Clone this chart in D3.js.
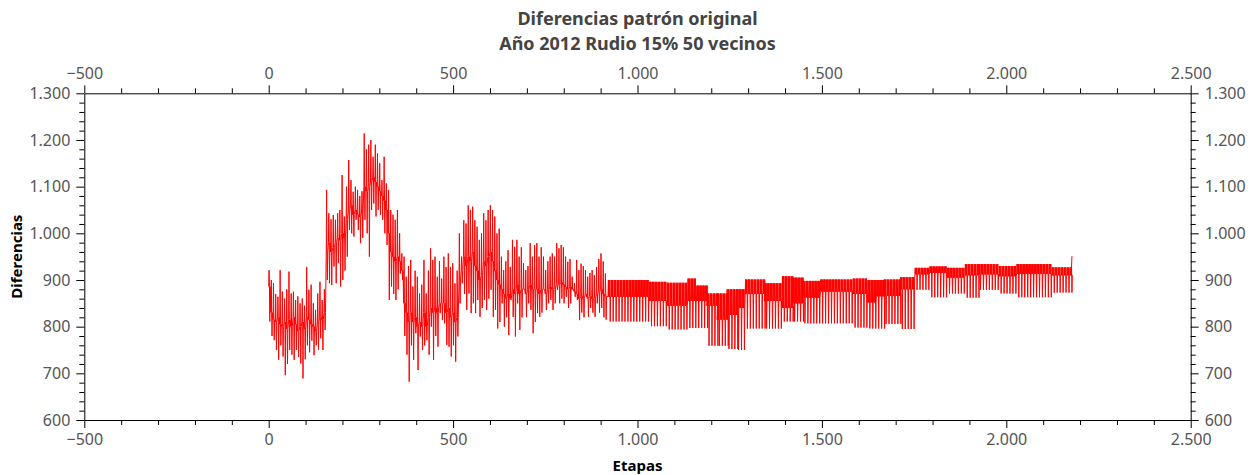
<!DOCTYPE html>
<html>
<head>
<meta charset="utf-8">
<script src="https://cdn.jsdelivr.net/npm/d3@7"></script>
<style>
  html, body { margin: 0; padding: 0; background: #fff; }
  svg text { font-family: "Noto Sans", "Open Sans", sans-serif; }
</style>
</head>
<body>
<svg id="chart" width="1254" height="475"></svg>
<script>
// ---------- chart texts ----------
const titleLines = ["Diferencias patrón original", "Año 2012 Rudio 15% 50 vecinos"];
const xTitle = "Etapas";
const yTitle = "Diferencias";

// ---------- ticks ----------
const xTicks = [-500, 0, 500, 1000, 1500, 2000, 2500];
const xTickLabels = ["\u2212500", "0", "500", "1.000", "1.500", "2.000", "2.500"];
const yTicks = [600, 700, 800, 900, 1000, 1100, 1200, 1300];
const yTickLabels = ["600", "700", "800", "900", "1.000", "1.100", "1.200", "1.300"];

// ---------- data: early irregular part, one reading every 6 stages ----------
const earlyPeriod = 6;
const earlyHi = [921,900,893,870,864,921,875,860,880,918,871,875,857,865,850,860,845,928,879,890,
  850,836,871,896,857,880,1093,1043,1030,1039,1029,1043,1050,1125,1036,1100,1157,1114,1089,1100,
  1093,1080,1090,1214,1180,1190,1200,1164,1190,1171,1150,1114,1164,1107,1093,1050,1040,1029,1050,1000,
  957,950,907,930,943,886,920,907,871,890,943,871,920,968,943,950,907,940,903,950,
  928,957,928,936,893,920,1000,950,1028,1021,1060,1050,1057,1028,1014,986,1000,1043,1028,1050,
  1060,1050,1036,1000,1010,950,921,940,964,928,986,971,986,950,970,936,921,930,979,950,
  975,979,950,970,950,921,940,950,957,950,979,968,975,970,950,939,945,907,893,943,
  921,935,930,921,907,915,921,910,928,945,957,940,914];
const earlyMid = [886,830,815,810,820,805,800,810,795,815,800,820,805,790,800,810,795,820,815,805,
  800,790,810,820,815,830,960,980,960,970,980,990,985,1000,990,1030,1050,1060,1040,1050,
  1040,1035,1050,1100,1090,1100,1110,1120,1110,1100,1090,1080,1070,1050,1000,960,950,940,950,940,
  920,850,830,810,830,810,820,800,810,800,830,800,820,840,830,840,830,850,850,850,
  830,840,820,830,810,820,900,920,950,930,950,940,960,930,920,900,910,940,930,950,
  960,940,920,900,890,880,870,860,870,860,880,870,890,870,880,880,870,880,890,880,
  880,880,870,880,880,870,880,885,880,885,890,890,895,890,885,880,885,880,875,870,
  860,865,860,870,860,865,860,860,870,875,880,870,865];
const earlyLo = [811,780,771,750,729,760,736,696,720,750,740,729,750,735,721,689,730,760,745,770,
  739,760,750,775,750,793,900,893,889,929,893,936,886,900,920,950,1007,1000,993,1029,
  1007,979,990,1029,1000,950,1050,1064,1036,1050,1040,1029,1000,975,857,886,870,857,880,914,
  900,780,740,682,760,729,786,707,779,750,760,771,740,800,729,780,757,829,814,807,
  761,757,736,760,725,779,850,893,870,836,871,829,850,829,857,821,840,857,836,860,
  879,821,836,796,810,850,800,820,782,857,821,779,850,793,820,879,821,850,836,786,
  810,829,821,830,879,836,850,857,836,850,879,850,860,850,864,840,850,879,864,857,
  814,830,820,864,821,840,830,821,850,830,840,820,815];

// ---------- data: regular part, plateaus repeating every 8 stages ----------
const blockPeriod = 8;
const blockStart = [920,1032,1080,1136,1160,1188,1216,1242,1268,1292,1344,1392,1420,1448,1496,1584,1624,1648,1668,1712,1752,1792,1840,1888,1924,1980,2028,2124];
const blockEnd   = [1032,1080,1136,1160,1188,1216,1242,1268,1292,1344,1392,1420,1448,1496,1584,1624,1648,1668,1712,1752,1792,1840,1888,1924,1980,2028,2124,2176];
const blockHi    = [900,896,894,903,888,871,871,880,880,901,893,908,905,898,901,903,900,900,901,906,926,929,926,934,934,930,934,927];
const blockMid   = [864,855,845,855,855,845,815,825,840,870,855,840,850,862,875,870,852,865,866,880,912,915,905,910,912,908,913,910];
const blockLo    = [811,801,794,797,797,759,759,752,750,796,796,811,811,807,807,798,796,796,806,795,879,863,871,862,879,871,863,873];
const lastStages = [2176, 2178];
const lastValues = [910, 951];

// ---------- build the series ----------
const series = [];
earlyHi.forEach((h, i) => {
  const s = i * earlyPeriod;
  series.push([s, earlyMid[i]], [s + 1, h], [s + 2, earlyMid[i]], [s + 3, earlyLo[i]], [s + 4, earlyMid[i]]);
});
blockStart.forEach((b, i) => {
  for (let s = b; s < blockEnd[i]; s += blockPeriod) {
    series.push([s, blockMid[i]], [s + 1, blockHi[i]], [s + 2, blockMid[i]],
                [s + 3, blockHi[i]], [s + 4, blockMid[i]], [s + 5, blockHi[i]],
                [s + 6, blockLo[i]], [s + 7, blockMid[i]]);
  }
});
lastStages.forEach((s, i) => series.push([s, lastValues[i]]));

// ---------- layout ----------
const L = 84.3, R = 1190.7, T = 93.3, B = 420;
const svg = d3.select("#chart");

const x = d3.scaleLinear().domain([-500, 2500]).range([L, R]);
const y = d3.scaleLinear().domain([600, 1300]).range([B, T]);

const xMinor = d3.range(-500, 2501, 100).filter(v => !xTicks.includes(v));
const yMinor = d3.range(600, 1301, 20).filter(v => !yTicks.includes(v));

const tickColor = "#000";
const labelColor = "#555";
const fs = 16;

function styleAxis(g) {
  g.select(".domain").attr("stroke", "#000").attr("stroke-width", 1);
  g.selectAll(".tick line").attr("stroke", tickColor);
  g.selectAll(".tick text").attr("fill", labelColor).attr("font-size", fs)
    .style("font-family", '"Noto Sans", "Open Sans", sans-serif');
}

function addAxis(axisFn, scale, ticks, labels, minor, transform) {
  const gMinor = svg.append("g").attr("transform", transform)
    .call(axisFn(scale).tickValues(minor).tickSize(5).tickFormat(""));
  gMinor.select(".domain").remove();
  gMinor.selectAll(".tick line").attr("stroke", tickColor);
  const g = svg.append("g").attr("transform", transform)
    .call(axisFn(scale).tickValues(ticks).tickSize(8).tickSizeOuter(0).tickPadding(6)
      .tickFormat((d, i) => labels[i]));
  styleAxis(g);
  return g;
}

addAxis(d3.axisBottom, x, xTicks, xTickLabels, xMinor, `translate(0,${B})`);
addAxis(d3.axisTop, x, xTicks, xTickLabels, xMinor, `translate(0,${T})`);
addAxis(d3.axisLeft, y, yTicks, yTickLabels, yMinor, `translate(${L},0)`);
addAxis(d3.axisRight, y, yTicks, yTickLabels, yMinor, `translate(${R},0)`);

// ---------- line ----------
const line = d3.line().x(d => x(d[0])).y(d => y(d[1]));
svg.append("path")
  .datum(series)
  .attr("fill", "none")
  .attr("stroke", "#ff0000")
  .attr("stroke-width", 1)
  .attr("d", line);

// ---------- titles ----------
const cx = (L + R) / 2;
svg.append("text").attr("x", cx).attr("y", 24.5).attr("text-anchor", "middle")
  .attr("font-size", 18).attr("font-weight", "bold").attr("fill", "#444").text(titleLines[0]);
svg.append("text").attr("x", cx).attr("y", 49.5).attr("text-anchor", "middle")
  .attr("font-size", 18).attr("font-weight", "bold").attr("fill", "#444").text(titleLines[1]);

svg.append("text").attr("x", cx).attr("y", 471).attr("text-anchor", "middle")
  .attr("font-size", 15).attr("font-weight", "bold").attr("fill", "#000").text(xTitle);
svg.append("text").attr("transform", `translate(22,${(T + B) / 2}) rotate(-90)`)
  .attr("text-anchor", "middle")
  .attr("font-size", 15).attr("font-weight", "bold").attr("fill", "#000").text(yTitle);
</script>
</body>
</html>
